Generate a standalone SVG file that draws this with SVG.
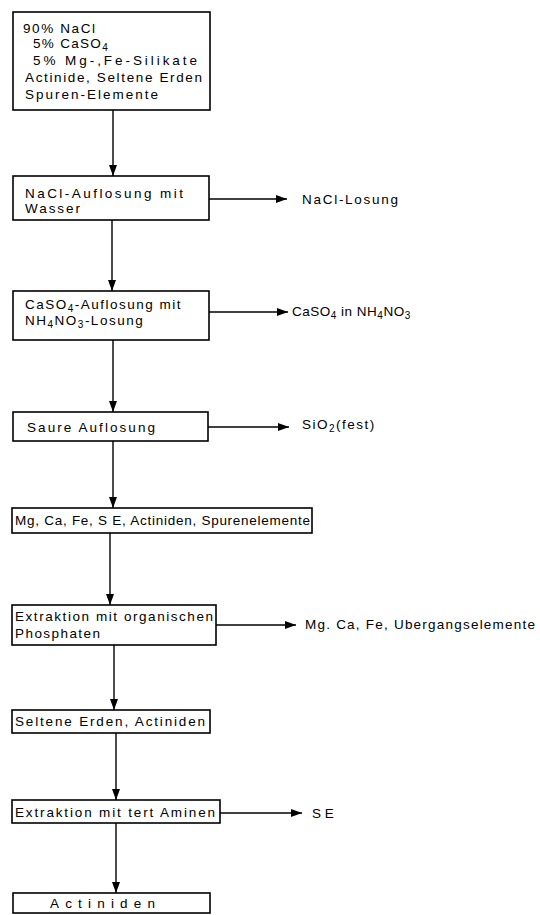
<svg xmlns="http://www.w3.org/2000/svg" width="540" height="915" viewBox="0 0 540 915">
<style>
.box{fill:#fff;stroke:#000;stroke-width:1.6}
.t{font-family:"Liberation Sans",Arial,sans-serif;font-size:13.5px;fill:#000}
.s{font-size:10px}
.c{stroke:#000;stroke-width:1.4;fill:none;marker-end:url(#ah)}
</style>
<defs>
<marker id="ah" markerUnits="userSpaceOnUse" markerWidth="11" markerHeight="8" refX="11" refY="4" orient="auto">
<path d="M0,0 L11,4 L0,8 z" fill="#000"/>
</marker>
</defs>
<rect width="540" height="915" fill="#fff"/>
<g id="connectors">
<line class="c" x1="113" y1="110" x2="113" y2="176"/>
<line class="c" x1="112" y1="220" x2="112" y2="291"/>
<line class="c" x1="113" y1="340" x2="113" y2="412"/>
<line class="c" x1="113" y1="441" x2="113" y2="508"/>
<line class="c" x1="110" y1="533" x2="110" y2="605"/>
<line class="c" x1="114" y1="645" x2="114" y2="710"/>
<line class="c" x1="116" y1="733" x2="116" y2="800"/>
<line class="c" x1="116" y1="823" x2="116" y2="893"/>
<line class="c" x1="209" y1="199" x2="287" y2="199"/>
<line class="c" x1="209" y1="312" x2="288" y2="312"/>
<line class="c" x1="208" y1="427" x2="289" y2="427"/>
<line class="c" x1="216" y1="625" x2="296" y2="625"/>
<line class="c" x1="220" y1="813" x2="302" y2="813"/>
</g>
<g id="n1">
<rect class="box" x="13" y="12" width="197" height="98"/>
<text class="t" x="23" y="33" textLength="72" lengthAdjust="spacing">90% NaCl</text>
<text class="t" x="33" y="48" letter-spacing="1.3">5% CaSO<tspan class="s" dy="2.5">4</tspan></text>
<text class="t" x="33" y="65" textLength="164" lengthAdjust="spacing">5% Mg-,Fe-Silikate</text>
<text class="t" x="25" y="82" textLength="177" lengthAdjust="spacing">Actinide, Seltene Erden</text>
<text class="t" x="25" y="99" textLength="133" lengthAdjust="spacing">Spuren-Elemente</text>
</g>
<g id="n2">
<rect class="box" x="13" y="176" width="196" height="44"/>
<text class="t" x="25" y="198" textLength="158" lengthAdjust="spacing">NaCl-Auflosung mit</text>
<text class="t" x="25" y="213" textLength="55" lengthAdjust="spacing">Wasser</text>
</g>
<g id="o2"><text class="t" x="302" y="204" textLength="96" lengthAdjust="spacing">NaCl-Losung</text></g>
<g id="n3">
<rect class="box" x="13" y="291" width="196" height="49"/>
<text class="t" x="25" y="309" letter-spacing="1.5">CaSO<tspan class="s" dy="3">4</tspan><tspan dy="-3">-Auflosung mit</tspan></text>
<text class="t" x="25" y="325" letter-spacing="1.5">NH<tspan class="s" dy="3">4</tspan><tspan dy="-3">NO</tspan><tspan class="s" dy="3">3</tspan><tspan dy="-3">-Losung</tspan></text>
</g>
<g id="o3"><text class="t" x="292" y="316" letter-spacing="0.5">CaSO<tspan class="s" dy="3">4</tspan><tspan dy="-3"> in NH</tspan><tspan class="s" dy="3">4</tspan><tspan dy="-3">NO</tspan><tspan class="s" dy="3">3</tspan></text></g>
<g id="n4">
<rect class="box" x="13" y="412" width="195" height="29"/>
<text class="t" x="27" y="432" textLength="128" lengthAdjust="spacing">Saure Auflosung</text>
</g>
<g id="o4"><text class="t" x="302" y="429" letter-spacing="1.5">SiO<tspan class="s" dy="3">2</tspan><tspan dy="-3">(fest)</tspan></text></g>
<g id="n5">
<rect class="box" x="12" y="508" width="300" height="25"/>
<text class="t" x="15" y="525" textLength="295" lengthAdjust="spacing">Mg, Ca, Fe, S E, Actiniden, Spurenelemente</text>
</g>
<g id="n6">
<rect class="box" x="12" y="605" width="204" height="40"/>
<text class="t" x="15" y="621" textLength="198" lengthAdjust="spacing">Extraktion mit organischen</text>
<text class="t" x="15" y="638" textLength="85" lengthAdjust="spacing">Phosphaten</text>
</g>
<g id="o6"><text class="t" x="305" y="629" textLength="230" lengthAdjust="spacing">Mg. Ca, Fe, Ubergangselemente</text></g>
<g id="n7">
<rect class="box" x="12" y="710" width="198" height="23"/>
<text class="t" x="15" y="726" textLength="190" lengthAdjust="spacing">Seltene Erden, Actiniden</text>
</g>
<g id="n8">
<rect class="box" x="12" y="800" width="208" height="23"/>
<text class="t" x="15" y="817" textLength="200" lengthAdjust="spacing">Extraktion mit tert Aminen</text>
</g>
<g id="o8"><text class="t" x="312" y="818" letter-spacing="0">S E</text></g>
<g id="n9">
<rect class="box" x="13" y="893" width="197" height="20"/>
<text class="t" x="50" y="908" textLength="105" lengthAdjust="spacing">Actiniden</text>
</g>
</svg>
